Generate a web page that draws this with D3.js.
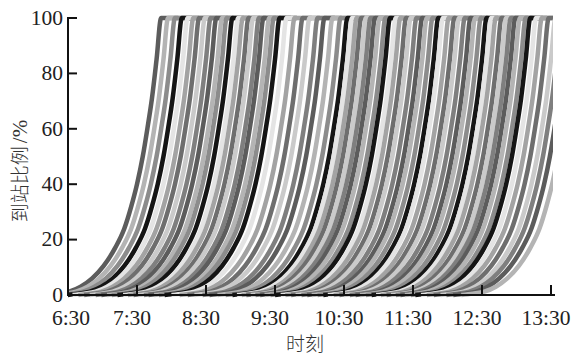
<!DOCTYPE html>
<html><head><meta charset="utf-8">
<script src="https://cdn.jsdelivr.net/npm/d3@7/dist/d3.min.js"></script>
<style>
html,body{margin:0;padding:0;background:#fff;}
svg{display:block;}
</style></head>
<body>
<svg id="c" width="576" height="356"></svg>
<script>
// ---- data ----
// minutes after 6:30 at which each curve reaches 100%
const reachTimes = [81, 87, 93, 99,
  104, 109, 114, 119, 124, 129, 134, 138, 143,
  148, 152, 157, 161, 166, 170, 175, 179, 184,
  190, 197, 204, 210, 217, 223, 230, 237, 243,
  247, 251, 255, 259, 263, 267, 271, 276, 280,
  285, 289, 294, 298, 303, 308, 312, 317, 322,
  326, 331, 336, 340, 345, 350, 354, 359, 364,
  368, 372, 377, 381, 385, 389, 393, 398, 402,
  407, 412, 418, 424, 429, 435, 442];
// common arrival profile: minutes relative to reaching 100%, and percent arrived
const profileMinutes = [-100, -90, -80, -70, -60, -50, -40, -32, -26, -21, -16, -12, -8, -4, 0, 15];
const profilePercent = [0, 0.5, 1.2, 3, 6, 10.5, 17, 24, 32, 40, 50, 60, 71, 85, 100, 100];
const xTickLabels = ["6:30", "7:30", "8:30", "9:30", "10:30", "11:30", "12:30", "13:30"];
const xTickMinutes = [0, 60, 120, 180, 240, 300, 360, 420];
const yTicks = [0, 20, 40, 60, 80, 100];
const yTitle = "到站比例";
const yUnit = "/%";
const xTitle = "时刻";
// grey cycle used for the curves
const greys = ["#5c5c5c", "#b4b4b4", "#8c8c8c", "#151515", "#e4e4e4", "#a3a3a3", "#6e6e6e", "#cacaca", "#7f7f7f"];

// ---- drawing ----
const svg = d3.select("#c");
const x = d3.scaleLinear().domain([0, 420]).range([68, 551]);
const y = d3.scaleLinear().domain([0, 100]).range([295, 18]);

svg.append("defs").append("clipPath").attr("id", "plot")
  .append("rect").attr("x", 68).attr("y", 0).attr("width", 553 - 68).attr("height", 300);

const line = d3.line()
  .x(d => x(d[0])).y(d => y(d[1]))
  .curve(d3.curveMonotoneX);

const g = svg.append("g").attr("clip-path", "url(#plot)");
reachTimes.forEach((t, i) => {
  const pts = profileMinutes.map((m, k) => [t + m, profilePercent[k]]);
  g.append("path")
    .attr("d", line(pts))
    .attr("fill", "none")
    .attr("stroke", greys[i % greys.length])
    .attr("stroke-width", 4.5)
    .attr("stroke-linecap", "butt")
    .attr("stroke-linejoin", "round");
});

// axes
const ax = svg.append("g");
ax.append("line").attr("x1", x(0)).attr("x2", x(0)).attr("y1", y(100) - 1).attr("y2", y(0) + 1)
  .attr("stroke", "#111").attr("stroke-width", 2);
ax.append("line").attr("x1", x(0) - 1).attr("x2", 555).attr("y1", y(0)).attr("y2", y(0))
  .attr("stroke", "#111").attr("stroke-width", 2);

yTicks.forEach(v => {
  ax.append("line").attr("x1", x(0)).attr("x2", x(0) + 9).attr("y1", y(v)).attr("y2", y(v))
    .attr("stroke", "#111").attr("stroke-width", 2);
  ax.append("text").attr("x", 63).attr("y", y(v)).attr("dy", "0.32em")
    .attr("text-anchor", "end")
    .attr("font-family", "'Liberation Serif', 'DejaVu Serif', serif")
    .attr("font-size", 21.5).attr("fill", "#222").text(v);
});

xTickMinutes.forEach((m, i) => {
  if (m > 0) {
    ax.append("line").attr("x1", x(m)).attr("x2", x(m)).attr("y1", y(0)).attr("y2", y(0) - 10)
      .attr("stroke", "#111").attr("stroke-width", 2);
  }
  ax.append("text").attr("x", m === 0 ? x(m) + 3 : x(m) - 5).attr("y", 325)
    .attr("text-anchor", "middle")
    .attr("font-family", "'Liberation Serif', 'DejaVu Serif', serif")
    .attr("font-size", 21.5).attr("fill", "#222").text(xTickLabels[i]);
});

// titles
const yt = svg.append("text")
  .attr("transform", "translate(27,171) rotate(-90)")
  .attr("text-anchor", "middle")
  .attr("fill", "#333");
yt.append("tspan").attr("font-family", "'Noto Sans CJK SC', sans-serif").attr("font-size", 19)
  .attr("font-weight", 300).text(yTitle);
yt.append("tspan").attr("font-family", "'Liberation Serif', serif").attr("font-size", 21)
  .attr("dx", 3).text(yUnit);

svg.append("text").attr("x", 305).attr("y", 351)
  .attr("text-anchor", "middle")
  .attr("font-family", "'Noto Sans CJK SC', sans-serif").attr("font-size", 19)
  .attr("font-weight", 300).attr("fill", "#333").text(xTitle);
</script>
</body></html>
